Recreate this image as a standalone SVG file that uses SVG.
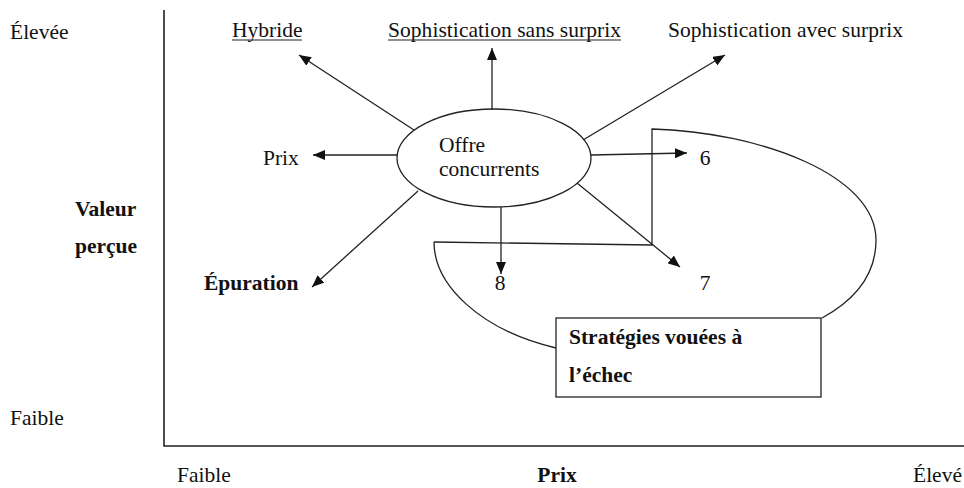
<svg xmlns="http://www.w3.org/2000/svg" width="964" height="488" viewBox="0 0 964 488">
  <style>
    text { font-family: "Liberation Serif", "DejaVu Serif", serif; font-size: 21.5px; fill: #111; }
    .b { font-weight: bold; }
    .c { text-anchor: middle; }
    .ln { stroke: #222; stroke-width: 1.3; fill: none; }
    .ar { stroke: #222; stroke-width: 1.3; fill: none; marker-end: url(#arrow); }
    .ax { stroke: #222; stroke-width: 1.6; fill: none; }
    .ul { stroke: #222; stroke-width: 1.1; }
  </style>
  <defs>
    <marker id="arrow" markerUnits="userSpaceOnUse" markerWidth="12" markerHeight="10" refX="12" refY="5" orient="auto">
      <path d="M0,0 L12,5 L0,10 z" fill="#111"/>
    </marker>
  </defs>
  <rect width="964" height="488" fill="#fff"/>

  <!-- axes -->
  <g id="axes">
    <path class="ax" d="M164,10 L164,446 L964,446"/>
    <text x="10" y="39">Élevée</text>
    <text x="10" y="425">Faible</text>
    <text class="b" x="75" y="216">Valeur</text>
    <text class="b" x="75" y="253">perçue</text>
    <text x="177" y="482">Faible</text>
    <text class="b c" x="557" y="482">Prix</text>
    <text x="913" y="482">Élevé</text>
  </g>

  <!-- failing strategies zone -->
  <g id="zone">
    <path class="ln" d="M434,242 L652,245 L652,129 C760,132 876,175 876,240 C876,275 855,300 822,318"/>
    <path class="ln" d="M434,242 C434,285 480,330 556,348"/>
  </g>

  <!-- connectors -->
  <g id="connectors">
    <line class="ar" x1="414" y1="130" x2="299" y2="55"/>
    <line class="ar" x1="492" y1="110" x2="492" y2="48"/>
    <line class="ar" x1="583" y1="140" x2="725" y2="55"/>
    <line class="ar" x1="397" y1="155" x2="313" y2="155"/>
    <line class="ar" x1="591" y1="155" x2="687" y2="153"/>
    <line class="ar" x1="577" y1="183" x2="680" y2="267"/>
    <line class="ar" x1="501" y1="207" x2="501" y2="274"/>
    <line class="ar" x1="418" y1="191" x2="312" y2="287"/>
  </g>

  <!-- central node -->
  <g id="offre">
    <ellipse class="ln" cx="494" cy="158" rx="97" ry="49" fill="#fff"/>
    <text x="439" y="152">Offre</text>
    <text x="439" y="176">concurrents</text>
  </g>

  <g id="hybride">
    <text x="232" y="37">Hybride</text>
    <line class="ul" x1="232" y1="40" x2="302" y2="40"/>
  </g>
  <g id="sans-surprix">
    <text x="388" y="37" textLength="233">Sophistication sans surprix</text>
    <line class="ul" x1="388" y1="40" x2="621" y2="40"/>
  </g>
  <g id="avec-surprix">
    <text x="668" y="37" textLength="235">Sophistication avec surprix</text>
  </g>
  <g id="prix">
    <text x="263" y="165">Prix</text>
  </g>
  <g id="epuration">
    <text class="b" x="204" y="290">Épuration</text>
  </g>
  <g id="n6"><text class="c" x="705" y="165">6</text></g>
  <g id="n7"><text class="c" x="705" y="290">7</text></g>
  <g id="n8"><text class="c" x="500" y="290">8</text></g>

  <g id="echec">
    <rect x="556" y="318" width="265" height="79" fill="#fff" stroke="#222" stroke-width="1.3"/>
    <text class="b" x="569" y="344">Stratégies vouées à</text>
    <text class="b" x="569" y="382">l’échec</text>
  </g>
</svg>
